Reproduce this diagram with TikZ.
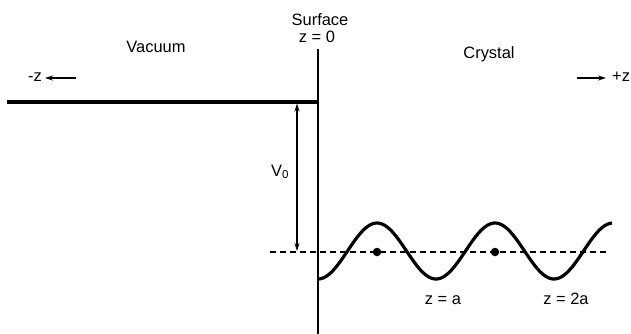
\documentclass[tikz,border=0pt]{standalone}
\usepackage{fontspec}
\setmainfont{Liberation Sans}
\usetikzlibrary{arrows.meta}

\begin{document}
\begin{tikzpicture}[x=1bp, y=-1bp,
  font=\fontsize{16.5}{19}\selectfont,
  txt/.style={anchor=base, inner sep=0pt},
  dot/.style={circle, fill=black, inner sep=0pt, minimum size=8.5bp},
  tip/.style={-{Stealth[length=8bp, width=5bp]}, line width=1.1bp}]
\useasboundingbox (0,0) rectangle (631,333);

% ── Labels ──
\node[txt] (surface) at (320,25) {Surface};
\node[txt] (zzero)   at (317,42) {z = 0};
\node[txt] (vacuum)  at (156,52) {Vacuum};
\node[txt] (crystal) at (489,58) {Crystal};
\node[txt, anchor=base east] (minusz) at (42,81) {-z};
\node[txt, anchor=base west] (plusz)  at (612,81) {+z};

% ── Surface and vacuum level ──
\coordinate (surftop) at (318,49);
\coordinate (surfbot) at (318,334);
\coordinate (vacleft) at (7,102);
\coordinate (vacright) at (318,102);
\draw[line width=2.2bp] (surftop) -- (surfbot);
\draw[line width=3.2bp] (vacleft) -- (vacright);

% Direction arrows
\coordinate (mzstart) at (76,78);
\coordinate (pzstart) at (577,78);
\draw[tip] (mzstart) -- ([xshift=3bp]minusz.east |- mzstart);
\draw[tip] (pzstart) -- ([xshift=-6bp]plusz.west |- pzstart);

% ── Mean level and V0 ──
\coordinate (dashleft) at (270,252);
\coordinate (dashright) at (610,252);
\draw[line width=1.3bp, dash pattern=on 6bp off 4bp] (dashleft) -- (dashright);

\coordinate (vtop) at (297,103.5);
\coordinate (vbot) at (297,251);
\draw[{Stealth[length=8bp, width=5bp]}-{Stealth[length=8bp, width=5bp]}, line width=1.1bp] (vtop) -- (vbot);
\node[txt] (vzero) at (280,176) {V\textsubscript{0}};

% ── Crystal potential ──
\draw[line width=3.2bp] plot[domain=318:612, samples=150, smooth]
  (\x, {251 + 28*cos(3.0508*(\x-318))});

% Ion cores
\node[dot] (ion1) at (377,252) {};
\node[dot] (ion2) at (495,252) {};

\node[txt] (za)  at (443,304) {z = a};
\node[txt] (z2a) at (566,304) {z = 2a};

\end{tikzpicture}
\end{document}
